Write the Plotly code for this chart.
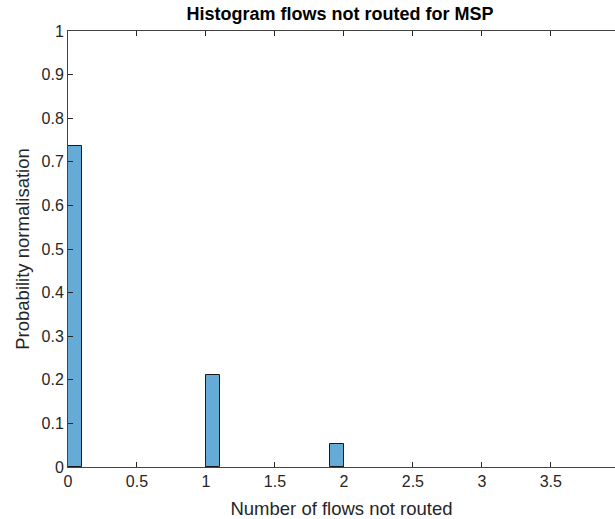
import plotly.graph_objects as go

bin_left = [0.0, 1.0, 1.9]
bin_width = 0.1
probabilities = [14/19, 4/19, 1/19]
x_ticks = [0, 0.5, 1, 1.5, 2, 2.5, 3, 3.5, 4]
x_tick_labels = ["0", "0.5", "1", "1.5", "2", "2.5", "3", "3.5", "4"]
y_ticks = [0, 0.1, 0.2, 0.3, 0.4, 0.5, 0.6, 0.7, 0.8, 0.9, 1]
y_tick_labels = ["0", "0.1", "0.2", "0.3", "0.4", "0.5", "0.6", "0.7", "0.8", "0.9", "1"]

centers = [b + bin_width / 2 for b in bin_left]

axcol = "#262626"
fig = go.Figure()
fig.add_trace(go.Bar(
    x=centers, y=probabilities, width=bin_width,
    marker=dict(color="rgb(102,170,215)", line=dict(color="#1a1a1a", width=1)),
    showlegend=False,
))

fig.update_layout(
    width=615, height=519,
    margin=dict(l=68, r=0, t=31, b=52),
    paper_bgcolor="white", plot_bgcolor="white",
    font=dict(family="Liberation Sans, Arial, sans-serif", size=16, color=axcol),
    title=dict(text="<b>Histogram flows not routed for MSP</b>", x=340 / 615,
               xanchor="center", y=1 - 14 / 519, yanchor="middle",
               font=dict(size=18, color="black")),
    bargap=0,
    xaxis=dict(range=[0, 3.965], tickvals=x_ticks, ticktext=x_tick_labels,
               ticks="inside", ticklen=5, tickcolor=axcol, showline=True, linecolor="#444",
               linewidth=1, mirror="ticks", showgrid=False, zeroline=False,
               tickfont=dict(size=16, color=axcol),
               title=dict(text="Number of flows not routed", font=dict(size=18.5, color=axcol), standoff=13)),
    yaxis=dict(range=[0, 1], tickvals=y_ticks, ticktext=y_tick_labels,
               ticks="inside", ticklen=5, tickcolor=axcol, showline=True, linecolor="#444",
               linewidth=1, mirror=False, showgrid=False, zeroline=False,
               tickfont=dict(size=16, color=axcol),
               title=dict(text="Probability normalisation", font=dict(size=18.5, color=axcol), standoff=7)),
    yaxis2=dict(range=[0, 1], overlaying="y", side="right", anchor="x", tickvals=y_ticks,
                ticks="inside", ticklen=2, tickcolor=axcol, showline=False, showgrid=False,
                zeroline=False, showticklabels=False),
)

fig.write_html("out.html")
